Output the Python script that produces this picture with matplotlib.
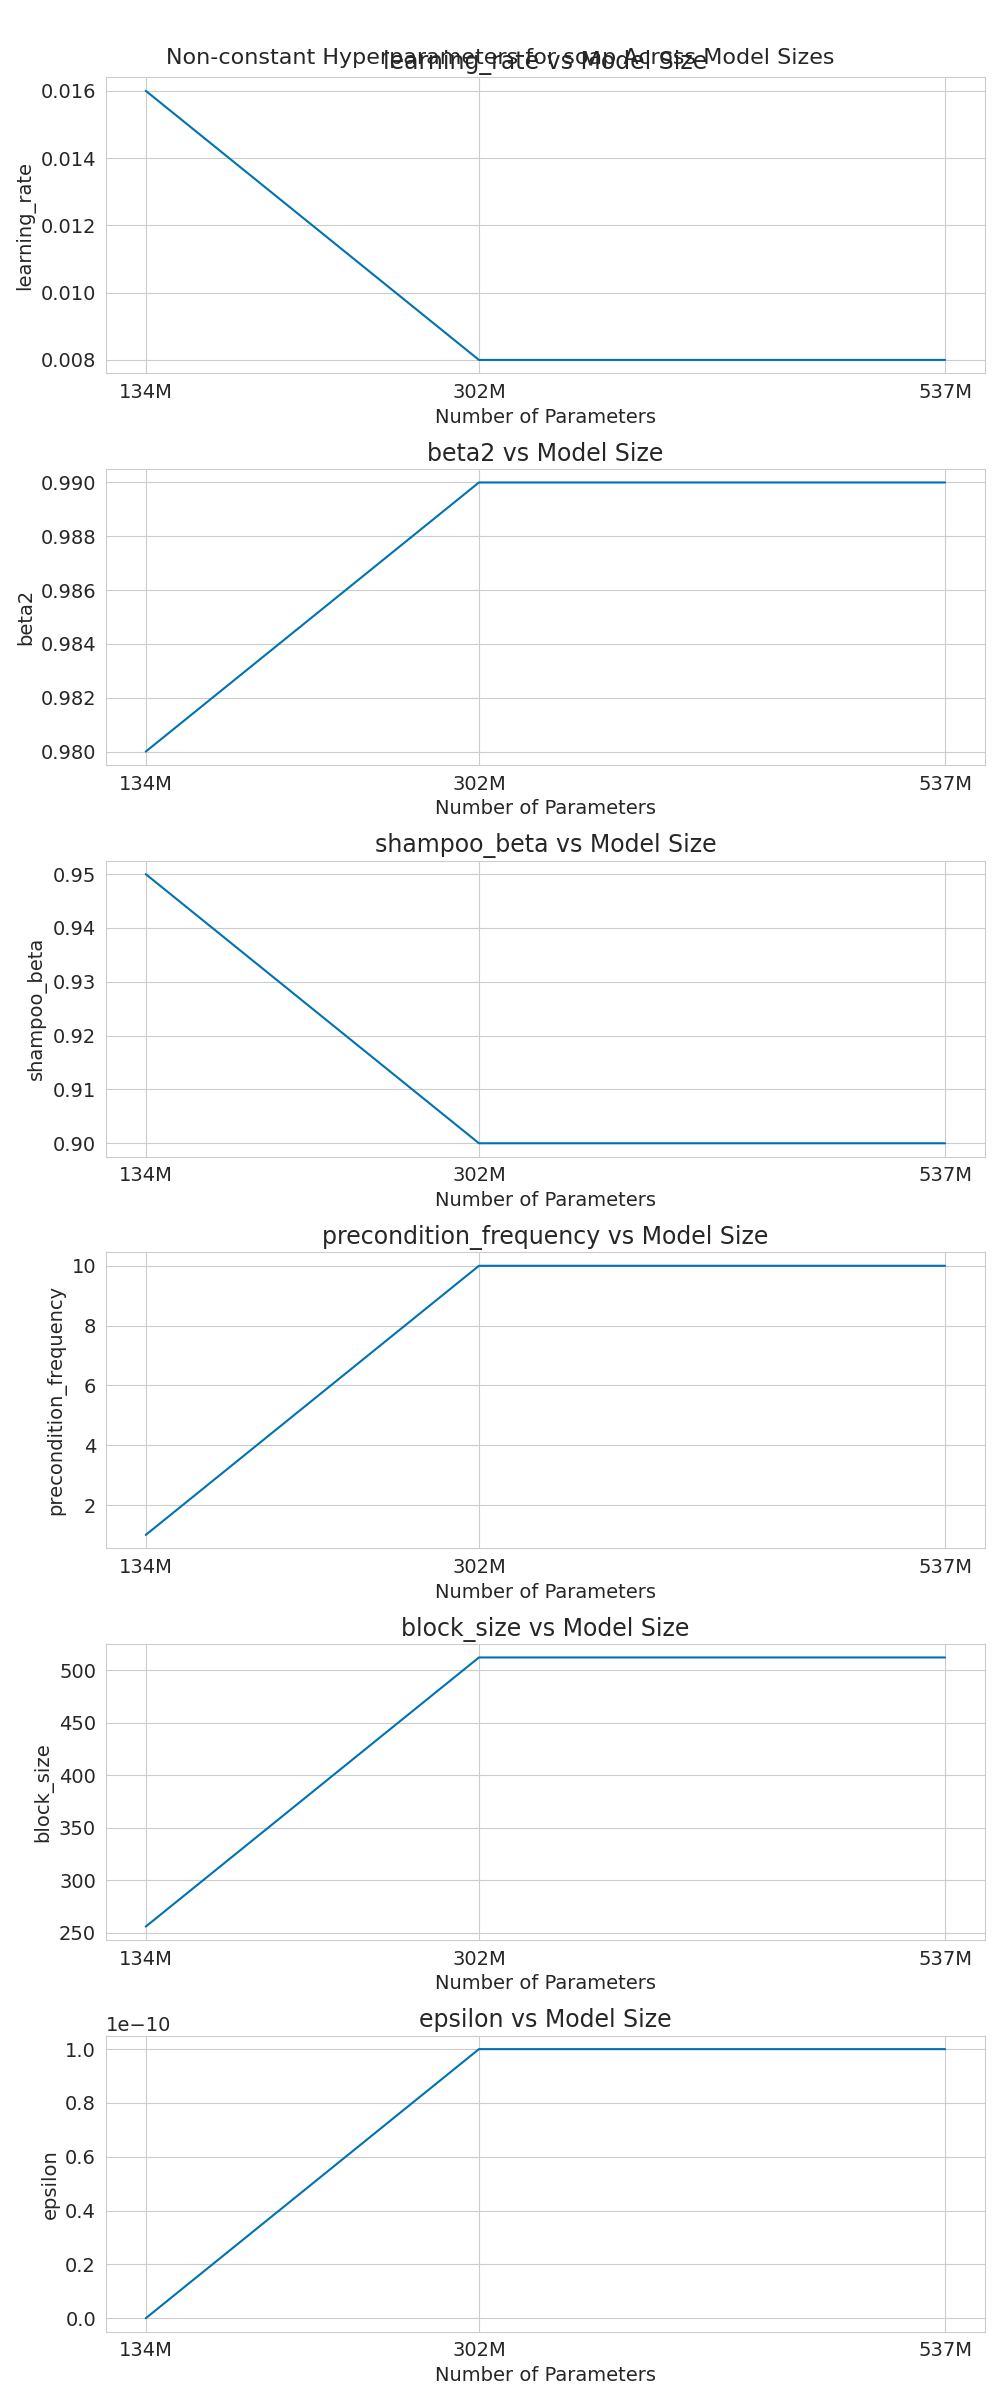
import matplotlib
matplotlib.use("Agg")
import matplotlib.pyplot as plt
import seaborn as sns

sns.set_style("whitegrid")
plt.rcParams["font.family"] = ["DejaVu Sans"]

model_sizes = [134, 302, 537]
size_labels = ["134M", "302M", "537M"]

learning_rate = [0.016, 0.008, 0.008]
beta2 = [0.98, 0.99, 0.99]
shampoo_beta = [0.95, 0.90, 0.90]
precondition_frequency = [1, 10, 10]
block_size = [256, 512, 512]
epsilon = [1e-15, 1e-10, 1e-10]

params = {
    "learning_rate": learning_rate,
    "beta2": beta2,
    "shampoo_beta": shampoo_beta,
    "precondition_frequency": precondition_frequency,
    "block_size": block_size,
    "epsilon": epsilon,
}

fig, axes = plt.subplots(len(params), 1, figsize=(10, 24))
fig.suptitle("Non-constant Hyperparameters for soap Across Model Sizes", fontsize=16)

for ax, (name, vals) in zip(axes, params.items()):
    ax.plot(model_sizes, vals, color="#0072B2", linewidth=1.5)
    ax.set_title(f"{name} vs Model Size", fontsize=17)
    ax.set_xlabel("Number of Parameters", fontsize=14)
    ax.set_ylabel(name, fontsize=14)
    ax.set_xticks(model_sizes)
    ax.set_xticklabels(size_labels)
    ax.tick_params(labelsize=14)
    ax.yaxis.get_offset_text().set_fontsize(14)

plt.tight_layout()
plt.savefig("out.png", dpi=100)
plt.close()
